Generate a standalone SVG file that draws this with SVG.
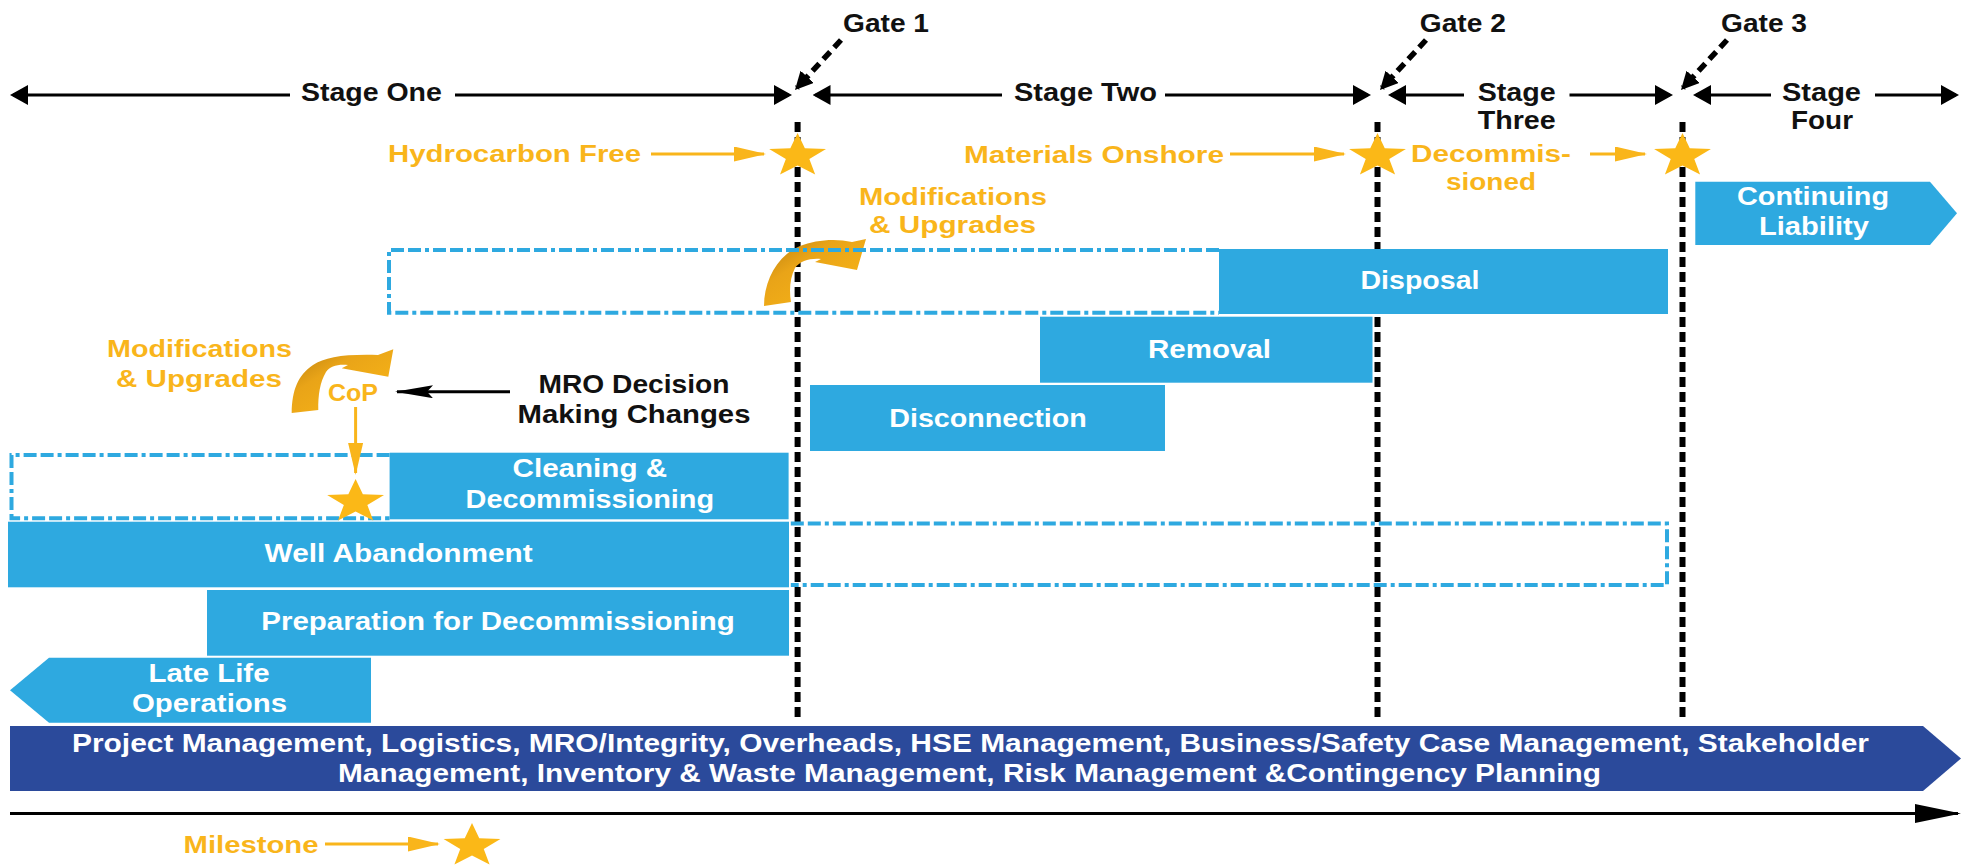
<svg xmlns="http://www.w3.org/2000/svg" width="1966" height="866" viewBox="0 0 1966 866">
<defs>
<style>
.t{font-family:"Liberation Sans",Arial,sans-serif;font-weight:bold;font-size:25px;text-anchor:middle}
.w{fill:#ffffff}
.k{fill:#111111}
.o{fill:#F9B51B;font-size:23px}
.blue{fill:#2EA9E0}
.navy{fill:#2B4A9B}
.dash{fill:none;stroke:#2EA9E0;stroke-width:4;stroke-dasharray:13 4 13 4 4 4}
.gate{stroke:#000;stroke-width:6;stroke-dasharray:10 5;fill:none}
.stg{stroke:#000;stroke-width:3;fill:none}
.gdash{stroke:#000;stroke-width:5.5;stroke-dasharray:10 6;fill:none}
.oar{stroke:#F9B51B;stroke-width:3;fill:none}
.star{fill:#FBB817}
</style>
<marker id="ka" viewBox="0 0 18 20" refX="15" refY="10" markerWidth="18" markerHeight="20" markerUnits="userSpaceOnUse" orient="auto-start-reverse"><path d="M0,0L18,10L0,20Z" fill="#000"/></marker>
<marker id="gm" viewBox="0 0 18 18" refX="15" refY="9" markerWidth="18" markerHeight="18" markerUnits="userSpaceOnUse" orient="auto"><path d="M0,0L18,9L0,18Z" fill="#000"/></marker>
<marker id="oa" viewBox="0 0 32 15" refX="30" refY="7.5" markerWidth="32" markerHeight="15" markerUnits="userSpaceOnUse" orient="auto"><path d="M0,0L32,7.5L0,15Z" fill="#F9B51B"/></marker>
<marker id="kb" viewBox="0 0 38 13" refX="36" refY="6.5" markerWidth="38" markerHeight="13" markerUnits="userSpaceOnUse" orient="auto"><path d="M0,0L38,6.5L0,13L6,6.5Z" fill="#000"/></marker>
<marker id="kc" viewBox="0 0 46 19" refX="43" refY="9.5" markerWidth="46" markerHeight="19" markerUnits="userSpaceOnUse" orient="auto"><path d="M0,0L46,9.5L0,19Z" fill="#000"/></marker>
<path id="st" d="M0,-23L7.25,-7.69L28.43,-7.11L11.75,2.94L17.58,18.61L0,9.5L-17.58,18.61L-11.75,2.94L-28.43,-7.11L-7.25,-7.69Z"/>
<linearGradient id="cg" x1="0" y1="0" x2="1" y2="1">
<stop offset="0" stop-color="#B97E0E"/>
<stop offset="0.35" stop-color="#E9A418"/>
<stop offset="1" stop-color="#FBB817"/>
</linearGradient>
</defs>
<rect width="1966" height="866" fill="#ffffff"/>

<g id="gate-lines">
<path class="gate" d="M797.6,122V717"/>
<path class="gate" d="M1377.5,122V717"/>
<path class="gate" d="M1682.5,122V717"/>
</g>

<g id="stage-one">
<path class="stg" d="M13,95H290" marker-start="url(#ka)"/>
<path class="stg" d="M455,95H789" marker-end="url(#ka)"/>
<text class="t k" x="371.4" y="101" textLength="141" lengthAdjust="spacingAndGlyphs">Stage One</text>
</g>
<g id="stage-two">
<path class="stg" d="M815.5,95H1002" marker-start="url(#ka)"/>
<path class="stg" d="M1165,95H1368" marker-end="url(#ka)"/>
<text class="t k" x="1085.5" y="101" textLength="143" lengthAdjust="spacingAndGlyphs">Stage Two</text>
</g>
<g id="stage-three">
<path class="stg" d="M1391,95H1464" marker-start="url(#ka)"/>
<path class="stg" d="M1569.5,95H1670" marker-end="url(#ka)"/>
<text class="t k" x="1516.7" y="101" textLength="78" lengthAdjust="spacingAndGlyphs">Stage</text>
<text class="t k" x="1516.7" y="129" textLength="78" lengthAdjust="spacingAndGlyphs">Three</text>
</g>
<g id="stage-four">
<path class="stg" d="M1696,95H1771" marker-start="url(#ka)"/>
<path class="stg" d="M1875,95H1956" marker-end="url(#ka)"/>
<text class="t k" x="1821.5" y="101" textLength="79" lengthAdjust="spacingAndGlyphs">Stage</text>
<text class="t k" x="1822" y="129" textLength="62" lengthAdjust="spacingAndGlyphs">Four</text>
</g>

<g id="gate-1">
<text class="t k" x="886" y="32" font-size="24" textLength="86" lengthAdjust="spacingAndGlyphs">Gate 1</text>
</g>
<g id="gate-2">
<text class="t k" x="1462.8" y="32" font-size="24" textLength="86" lengthAdjust="spacingAndGlyphs">Gate 2</text>
</g>
<g id="gate-3">
<text class="t k" x="1764" y="32" font-size="24" textLength="86" lengthAdjust="spacingAndGlyphs">Gate 3</text>
</g>

<g id="milestones">
<use href="#st" class="star" x="797.6" y="156"/>
<use href="#st" class="star" x="1377.5" y="156"/>
<use href="#st" class="star" x="1682.5" y="156"/>
</g>
<g id="hydrocarbon-free">
<text class="t o" x="514.5" y="162" textLength="253" lengthAdjust="spacingAndGlyphs">Hydrocarbon Free</text>
</g>
<g id="materials-onshore">
<text class="t o" x="1094" y="162.5" textLength="260" lengthAdjust="spacingAndGlyphs">Materials Onshore</text>
</g>
<g id="decommissioned">
<text class="t o" x="1491" y="162" textLength="160" lengthAdjust="spacingAndGlyphs">Decommis-</text>
<text class="t o" x="1491" y="190" textLength="90" lengthAdjust="spacingAndGlyphs">sioned</text>
</g>

<g id="continuing-liability">
<polygon class="blue" points="1695.3,181.7 1930,181.7 1957,213.3 1930,245 1695.3,245"/>
<text class="t w" x="1813" y="205" textLength="152" lengthAdjust="spacingAndGlyphs">Continuing</text>
<text class="t w" x="1814" y="235" textLength="110" lengthAdjust="spacingAndGlyphs">Liability</text>
</g>

<g id="mods-upper">
<text class="t o" x="953" y="205" textLength="188" lengthAdjust="spacingAndGlyphs">Modifications</text>
<text class="t o" x="952.5" y="233" textLength="167" lengthAdjust="spacingAndGlyphs">&amp; Upgrades</text>
<path fill="url(#cg)" d="M764,306C764,280 778,255 800,246C815,240 835,238 852,242L866,239L857,270L815,262L821,259C810,258 800,261 795,268C790,278 789,290 791,302Z"/>
</g>

<g id="disposal">
<path class="dash" d="M1219,250H389V312.7H1219"/>
<rect class="blue" x="1219" y="249" width="449" height="65"/>
<text class="t w" x="1420" y="288.5" textLength="119" lengthAdjust="spacingAndGlyphs">Disposal</text>
</g>

<g id="removal">
<rect class="blue" x="1040" y="316.7" width="332.5" height="66"/>
<text class="t w" x="1209.5" y="358" textLength="123" lengthAdjust="spacingAndGlyphs">Removal</text>
</g>

<g id="disconnection">
<rect class="blue" x="810" y="385" width="355" height="66"/>
<text class="t w" x="988" y="426.7" textLength="197.5" lengthAdjust="spacingAndGlyphs">Disconnection</text>
</g>

<g id="mods-left">
<text class="t o" x="199.5" y="356.7" textLength="185" lengthAdjust="spacingAndGlyphs">Modifications</text>
<text class="t o" x="199" y="386.7" textLength="166" lengthAdjust="spacingAndGlyphs">&amp; Upgrades</text>
<path fill="url(#cg)" d="M291.7,413C292,390 298,375 313,365C325,357 345,354 378,355L393.3,349.3L388.3,376.7L341.7,368.3L348,365C338,364 330,366 326,372C320,382 318,395 318.3,410Z"/>
</g>

<g id="cop">
<text class="t o" x="353" y="400.7" textLength="50" lengthAdjust="spacingAndGlyphs">CoP</text>
</g>

<g id="mro-decision">
<text class="t k" x="634" y="393.3" font-size="23" textLength="191" lengthAdjust="spacingAndGlyphs">MRO Decision</text>
<text class="t k" x="634" y="423.3" font-size="23" textLength="233" lengthAdjust="spacingAndGlyphs">Making Changes</text>
</g>

<g id="cleaning">
<path class="dash" d="M389.6,455H11.5V518.3H389.6"/>
<rect class="blue" x="389.6" y="452.7" width="399" height="66.6"/>
<text class="t w" x="589.8" y="476.7" textLength="154.5" lengthAdjust="spacingAndGlyphs">Cleaning &amp;</text>
<text class="t w" x="589.8" y="508.3" textLength="248.5" lengthAdjust="spacingAndGlyphs">Decommissioning</text>
</g>
<g id="cop-star">
<use href="#st" class="star" x="355.6" y="502"/>
</g>

<g id="well-abandonment">
<rect class="blue" x="8" y="521.7" width="781" height="65.6"/>
<path class="dash" d="M790.8,523.5H1667V585H790.8"/>
<text class="t w" x="398.6" y="562.3" textLength="268" lengthAdjust="spacingAndGlyphs">Well Abandonment</text>
</g>

<g id="preparation">
<rect class="blue" x="207" y="590" width="582" height="65.7"/>
<text class="t w" x="498" y="630" textLength="473.5" lengthAdjust="spacingAndGlyphs">Preparation for Decommissioning</text>
</g>

<g id="late-life">
<polygon class="blue" points="10,690.2 49,657.7 371,657.7 371,722.7 49,722.7"/>
<text class="t w" x="209" y="682.3" textLength="121" lengthAdjust="spacingAndGlyphs">Late Life</text>
<text class="t w" x="209.5" y="711.7" textLength="155" lengthAdjust="spacingAndGlyphs">Operations</text>
</g>

<g id="management-bar">
<polygon class="navy" points="10,726 1923,726 1961,758.5 1923,791 10,791"/>
<text class="t w" x="970.5" y="751.7" font-size="24" textLength="1797" lengthAdjust="spacingAndGlyphs">Project Management, Logistics, MRO/Integrity, Overheads, HSE Management, Business/Safety Case Management, Stakeholder</text>
<text class="t w" x="969.5" y="781.7" font-size="24" textLength="1263" lengthAdjust="spacingAndGlyphs">Management, Inventory &amp; Waste Management, Risk Management &amp;Contingency Planning</text>
</g>

<g id="legend">
<text class="t o" x="251" y="853.3" textLength="135" lengthAdjust="spacingAndGlyphs">Milestone</text>
<use href="#st" class="star" x="472" y="846"/>
</g>

<g id="connectors">
<path class="gdash" d="M841,40L797,87.8" marker-end="url(#gm)"/>
<path class="gdash" d="M1426,40L1382,87.8" marker-end="url(#gm)"/>
<path class="gdash" d="M1727,40L1683,87.8" marker-end="url(#gm)"/>
<path class="oar" d="M651,154H764" marker-end="url(#oa)"/>
<path class="oar" d="M1230,154H1344" marker-end="url(#oa)"/>
<path class="oar" d="M1590,154H1645" marker-end="url(#oa)"/>
<path class="oar" d="M355.6,407V473" marker-end="url(#oa)"/>
<path class="oar" d="M325,844H438" marker-end="url(#oa)"/>
<path class="stg" d="M510,391.7H397" stroke-width="2.5" marker-end="url(#kb)"/>
<path class="stg" d="M10,813.5H1958" marker-end="url(#kc)"/>
</g>
</svg>
